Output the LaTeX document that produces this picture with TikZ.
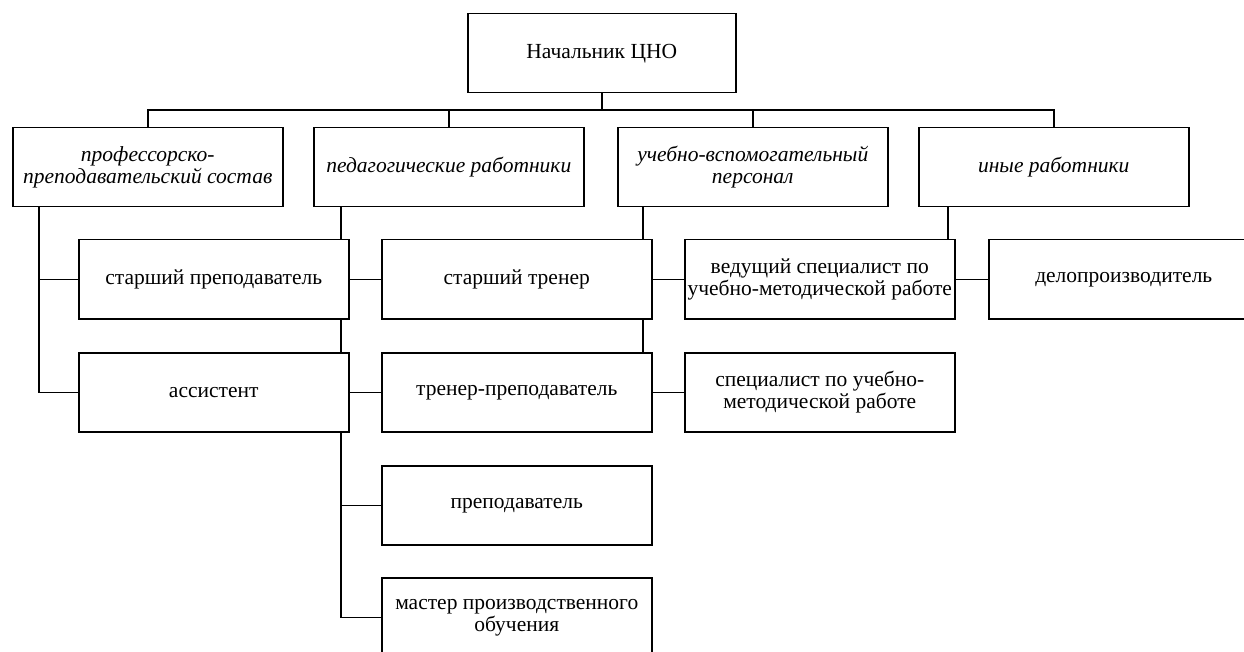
\documentclass[tikz,border=0pt]{standalone}
\usepackage{fontspec}
\setmainfont{Liberation Serif}
\pgfdeclarelayer{bg}
\pgfsetlayers{bg,main}
\tikzset{
  box/.style={draw, line width=1.5pt, fill=white, minimum width=270pt, minimum height=79pt,
    inner sep=0pt, align=center, anchor=north west, font=\fontsize{21.5}{22}\selectfont},
  cat/.style={box, font=\fontsize{21.5}{22}\selectfont\itshape},
  link/.style={line width=1.5pt},
}
\begin{document}
\begin{tikzpicture}[x=1pt,y=-1pt]
\clip (0,0) rectangle (1244,652);
\useasboundingbox (0,0) rectangle (1244,652);
% top
\node[box, minimum width=268pt] (top) at (467,13) {Начальник ЦНО};
% categories
\node[cat] (B1) at (12,127) {профессорско-\\преподавательский состав};
\node[cat] (B2) at (313,127) {педагогические работники};
\node[cat] (B3) at (617,127) {учебно-вспомогательный\\персонал};
\node[cat] (B4) at (918,127) {иные работники};
% row 2
\node[box] (sp) at (78,239) {старший преподаватель};
\node[box] (st) at (381,239) {старший тренер};
\node[box] (vs) at (684,239) {ведущий специалист по\\учебно-методической работе};
\node[box] (dp) at (988,239) {делопроизводитель};
% row 3
\node[box] (as) at (78,352) {ассистент};
\node[box] (tp) at (381,352) {тренер-преподаватель};
\node[box] (su) at (684,352) {специалист по учебно-\\методической работе};
% row 4, 5
\node[box] (pr) at (381,465) {преподаватель};
\node[box] (ms) at (381,577) {мастер производственного\\обучения};
\begin{pgfonlayer}{bg}
  \coordinate (s1) at ([xshift=27pt]B1.south west);
  \coordinate (s2) at ([xshift=28pt]B2.south west);
  \coordinate (s3) at ([xshift=26pt]B3.south west);
  \coordinate (s4) at ([xshift=30pt]B4.south west);
  % bus
  \draw[link] (top.south) -- ++(0,17);
  \draw[link] (B1.north) -- ++(0,-17) -| (B4.north);
  \draw[link] (B2.north) -- ++(0,-17);
  \draw[link] (B3.north) -- ++(0,-17);
  % spine 1
  \draw[link] (s1) |- (as.west);
  \draw[link] (s1 |- sp.west) -- (sp.west);
  % spine 2
  \draw[link] (s2) |- (ms.west);
  \draw[link] (s2 |- st.west) -- (st.west);
  \draw[link] (s2 |- tp.west) -- (tp.west);
  \draw[link] (s2 |- pr.west) -- (pr.west);
  % spine 3
  \draw[link] (s3) |- (su.west);
  \draw[link] (s3 |- vs.west) -- (vs.west);
  % spine 4
  \draw[link] (s4) |- (dp.west);
\end{pgfonlayer}
\end{tikzpicture}
\end{document}
